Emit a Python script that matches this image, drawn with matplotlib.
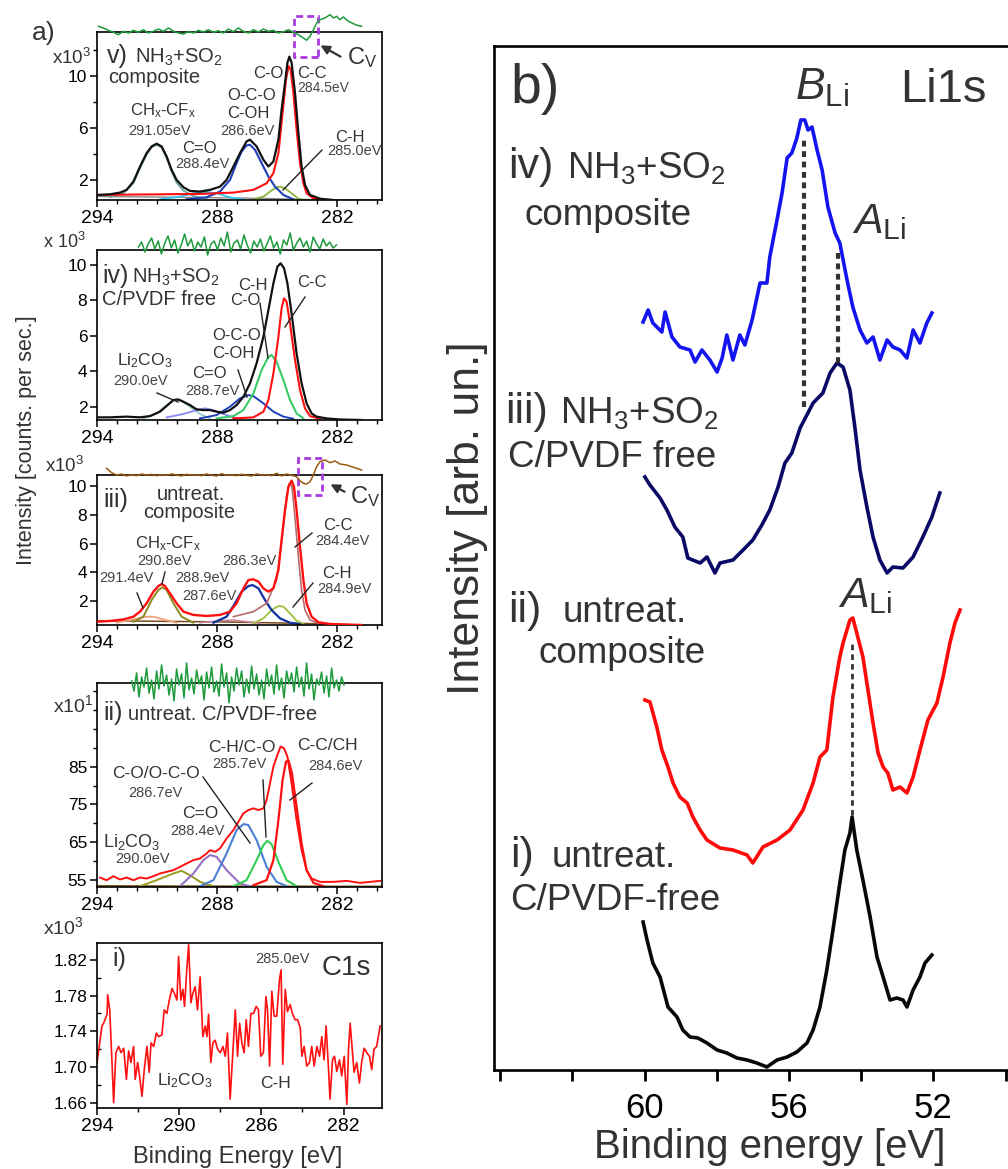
import matplotlib.pyplot as plt
from matplotlib.lines import Line2D
from matplotlib.patches import Rectangle, FancyArrowPatch
from matplotlib.ticker import FixedLocator, FormatStrFormatter

plt.rcParams['font.family'] = ['Liberation Sans', 'DejaVu Sans']
plt.rcParams['mathtext.fontset'] = 'custom'
plt.rcParams['mathtext.rm'] = 'Liberation Sans'
plt.rcParams['mathtext.it'] = 'Liberation Sans:italic'

###############################################################################
# Data: (binding energy [eV], intensity) pairs
# ---------------------------------------------------------------------------

# a-v) NH3+SO2 composite, intensity x10^3
V_ENV = [(293.93, 0.84), (293.35, 0.89), (292.85, 1.02), (292.52, 1.23), (292.18, 1.87),
         (291.85, 3.03), (291.52, 4.06), (291.27, 4.58), (291.02, 4.79), (290.77, 4.58),
         (290.52, 3.81), (290.27, 2.77), (290.02, 2.0), (289.68, 1.43), (289.35, 1.15),
         (288.85, 1.10), (288.35, 1.23), (287.85, 1.48), (287.52, 2.0), (287.18, 3.03),
         (286.85, 4.06), (286.52, 4.97), (286.35, 5.10), (286.02, 4.58), (285.68, 3.55),
         (285.43, 3.03), (285.18, 3.42), (284.93, 5.10), (284.77, 7.42), (284.6, 9.48),
         (284.48, 11.03), (284.38, 11.50), (284.27, 11.03), (284.1, 8.71), (283.93, 5.61),
         (283.77, 3.03), (283.6, 1.61), (283.35, 0.84), (282.85, 0.55), (282.18, 0.45)]
V_CC = [(294.0, 0.84), (288.85, 0.92), (287.18, 1.02), (286.18, 1.23), (285.52, 1.74),
        (285.18, 2.52), (284.93, 4.06), (284.72, 7.16), (284.55, 9.74), (284.42, 10.77),
        (284.32, 10.52), (284.18, 8.71), (284.02, 5.87), (283.85, 3.29), (283.68, 1.74),
        (283.52, 0.97), (283.18, 0.58), (282.52, 0.45)]
V_OCO = [(289.52, 0.50), (288.52, 0.66), (287.85, 1.10), (287.35, 2.0), (287.02, 3.29),
         (286.77, 4.19), (286.52, 4.66), (286.35, 4.71), (286.1, 4.32), (285.77, 3.29),
         (285.43, 2.26), (285.1, 1.48), (284.68, 0.84), (284.18, 0.50)]
V_CO = [(290.85, 0.50), (289.85, 0.71), (289.18, 0.97), (288.52, 1.07), (288.02, 0.97),
        (287.35, 0.66), (286.68, 0.50)]
V_CHCF = [(293.35, 0.66), (292.68, 0.97), (292.18, 1.74), (291.85, 2.90), (291.52, 3.94),
          (291.27, 4.50), (291.02, 4.71), (290.77, 4.50), (290.52, 3.68), (290.27, 2.65),
          (290.02, 1.79), (289.68, 1.17), (289.18, 0.76), (288.52, 0.55)]
V_CH = [(286.18, 0.50), (285.68, 0.71), (285.35, 1.10), (285.02, 1.43), (284.85, 1.48),
        (284.6, 1.35), (284.27, 0.97), (283.93, 0.55), (283.68, 0.45)]
V_BG = [(294.0, 0.72), (290.0, 0.66), (286.0, 0.58), (283.0, 0.48), (279.75, 0.45)]
V_RES = [(293.93, 5.7), (293.68, 4), (293.43, 1.7), (293.18, -0.3), (292.93, -2.7),
         (292.68, 0.7), (292.43, -1), (292.18, 1.7), (291.93, -0.3), (291.68, 2.3),
         (291.43, -1), (291.18, 0.7), (290.93, 3), (290.68, 0.7), (290.43, 4),
         (290.18, 0.7), (289.93, -1), (289.68, -2), (289.43, 0.3), (289.18, -1),
         (288.93, 1.7), (288.68, 0), (288.43, 2.3), (288.18, -0.3), (287.93, 1.3),
         (287.68, -1), (287.43, 3), (287.18, 0.3), (286.93, 4), (286.68, 0.7),
         (286.43, -1), (286.18, 2.3), (285.93, 0), (285.68, 3), (285.43, 0.7),
         (285.18, 1.7), (284.93, -1), (284.68, 0.3), (284.43, 2.3), (284.18, -0.3),
         (283.93, -2.7), (283.68, -6), (283.52, -8.3), (283.35, -4.3), (283.18, 2.3),
         (283.02, 9), (282.85, 12.3), (282.6, 14), (282.35, 17.3), (282.18, 14),
         (282.02, 15.7), (281.85, 12.3), (281.68, 15), (281.43, 10.7), (281.18, 8.3),
         (280.93, 6.3), (280.77, 5.7)]

# a-iv) NH3+SO2 C/PVDF free, intensity x10^3
IV_ENV = [(294.0, 1.40), (293.35, 1.40), (292.52, 1.44), (291.85, 1.40), (291.35, 1.47),
          (290.85, 1.72), (290.52, 2.04), (290.18, 2.38), (289.93, 2.41), (289.68, 2.28),
          (289.35, 2.09), (289.02, 1.85), (288.68, 1.81), (288.35, 1.81), (288.02, 1.72),
          (287.68, 1.66), (287.35, 1.81), (287.02, 2.09), (286.68, 2.56), (286.35, 3.32),
          (286.02, 4.45), (285.68, 5.95), (285.43, 7.46), (285.18, 8.97), (284.98, 9.91),
          (284.82, 10.10), (284.65, 9.82), (284.48, 8.97), (284.27, 7.27), (284.02, 5.01),
          (283.77, 3.32), (283.52, 2.19), (283.27, 1.62), (283.02, 1.44), (282.52, 1.34),
          (281.85, 1.28), (280.77, 1.25)]
IV_CC = [(287.18, 1.34), (286.18, 1.40), (285.68, 1.72), (285.43, 2.38), (285.18, 3.88),
         (284.93, 5.95), (284.77, 7.56), (284.65, 8.12), (284.52, 7.93), (284.35, 6.71),
         (284.1, 4.64), (283.85, 2.94), (283.6, 1.91), (283.35, 1.47), (282.85, 1.32)]
IV_CHCO = [(288.02, 1.34), (287.18, 1.47), (286.68, 1.81), (286.18, 2.75), (285.77, 4.07),
           (285.43, 4.82), (285.27, 4.92), (285.02, 4.54), (284.68, 3.51), (284.35, 2.38),
           (284.02, 1.62), (283.68, 1.34)]
IV_OCO = [(288.85, 1.34), (288.02, 1.53), (287.35, 2.0), (286.85, 2.47), (286.43, 2.66),
          (286.18, 2.60), (285.68, 2.19), (285.18, 1.72), (284.68, 1.44), (284.18, 1.32)]
IV_CO = [(290.52, 1.40), (289.68, 1.59), (289.02, 1.81), (288.6, 1.91), (288.18, 1.81),
         (287.68, 1.59), (287.02, 1.34)]
IV_LI = [(291.68, 1.34), (291.02, 1.62), (290.52, 2.09), (290.1, 2.38), (289.77, 2.34),
         (289.35, 2.0), (288.85, 1.59), (288.35, 1.34)]
IV_RES_E = [291.93, 291.77, 291.60, 291.44, 291.27, 291.11, 290.94, 290.78, 290.61, 290.45,
            290.28, 290.12, 289.95, 289.79, 289.62, 289.46, 289.29, 289.13, 288.96, 288.80,
            288.63, 288.47, 288.30, 288.14, 287.97, 287.81, 287.64, 287.48, 287.31, 287.15,
            286.98, 286.82, 286.65, 286.49, 286.32, 286.16, 285.99, 285.83, 285.66, 285.50,
            285.33, 285.17, 285.00, 284.84, 284.67, 284.51, 284.34, 284.18, 284.01, 283.85,
            283.68, 283.52, 283.35, 283.19, 283.02, 282.86, 282.69, 282.53, 282.36, 282.20,
            282.03]
IV_RES = [3, 8, -2, 6, 12, 1, 9, -4, 7, 14,
          2, 10, -3, 5, 16, 4, 11, -1, 8, 3,
          13, -5, 6, 9, 0, 12, 4, 18, -2, 7,
          10, 1, 15, 5, -3, 9, 3, 11, -1, 6,
          14, 2, 8, -4, 10, 5, 17, 0, 7, 12,
          3, 9, -2, 13, 6, 1, 11, 4, 8, 2,
          5]

# a-iii) untreated composite, intensity x10^3
III_ENV = [(294.0, 0.56), (293.35, 0.61), (292.68, 0.72), (292.18, 0.91), (291.85, 1.26),
           (291.52, 1.84), (291.18, 2.65), (290.93, 3.04), (290.77, 3.18), (290.6, 3.04),
           (290.35, 2.53), (290.02, 1.84), (289.68, 1.26), (289.18, 1.03), (288.52, 0.96),
           (287.85, 1.03), (287.35, 1.26), (287.02, 1.84), (286.68, 2.88), (286.43, 3.46),
           (286.18, 3.51), (285.93, 3.35), (285.68, 2.88), (285.43, 2.65), (285.18, 2.88),
           (284.93, 4.16), (284.77, 6.25), (284.6, 8.33), (284.43, 9.96), (284.27, 10.38),
           (284.15, 9.96), (284.02, 8.33), (283.85, 5.78), (283.68, 3.46), (283.52, 1.84),
           (283.27, 0.91), (282.93, 0.52), (282.35, 0.40), (280.77, 0.33)]
III_CC = [(287.18, 0.91), (286.18, 1.26), (285.52, 1.84), (285.02, 3.46), (284.72, 6.71),
          (284.52, 9.26), (284.38, 10.19), (284.25, 9.96), (284.12, 8.10), (283.93, 5.09),
          (283.77, 2.77), (283.6, 1.37), (283.35, 0.68), (282.85, 0.40)]
III_286 = [(288.18, 0.49), (287.52, 0.91), (287.1, 1.84), (286.77, 2.65), (286.43, 3.04),
           (286.22, 3.11), (285.93, 2.88), (285.6, 2.07), (285.27, 1.37), (284.85, 0.79),
           (284.35, 0.49), (283.85, 0.38)]
III_CHCF = [(292.18, 0.56), (291.68, 0.91), (291.27, 2.07), (290.93, 2.77), (290.73, 2.95),
            (290.52, 2.77), (290.18, 1.84), (289.77, 0.91), (289.18, 0.49)]
III_291 = [(293.02, 0.49), (292.18, 0.72), (291.52, 0.91), (291.18, 0.91), (290.68, 0.72),
           (290.02, 0.49)]
III_288 = [(288.85, 0.49), (287.85, 0.63), (287.18, 0.68), (286.52, 0.56), (285.85, 0.45)]
III_CH = [(286.18, 0.45), (285.68, 0.79), (285.27, 1.37), (284.93, 1.65), (284.68, 1.61),
          (284.35, 1.14), (284.02, 0.63), (283.68, 0.40)]
III_BG = [(294.0, 0.63), (288.0, 0.55), (284.0, 0.45), (280.77, 0.33)]
III_RES = [(293.52, 6.7), (293.27, 2.3), (293.02, 0), (292.77, 1), (292.52, -1),
           (292.27, 0.3), (292.02, -0.7), (291.77, 1), (291.52, -0.3), (291.27, 0.7),
           (291.02, -0.7), (290.77, 0.3), (290.52, -0.3), (290.27, 1), (290.02, 0),
           (289.77, -1), (289.52, 0.7), (289.27, -0.3), (289.02, 0.3), (288.77, -0.7),
           (288.52, 1), (288.27, -0.3), (288.02, -1), (287.77, 1.3), (287.52, -0.3),
           (287.27, 0.3), (287.02, -0.7), (286.77, 0.7), (286.52, -0.3), (286.27, -1),
           (286.02, 1), (285.77, 0), (285.52, 0.3), (285.27, -0.7), (285.02, 1.7),
           (284.77, -1), (284.52, 1), (284.27, -0.3), (284.02, -1.7), (283.85, -5.7),
           (283.68, -8.3), (283.52, -9), (283.35, -6.7), (283.18, 0), (283.02, 8.3),
           (282.85, 13.3), (282.6, 15), (282.35, 12.3), (282.1, 14), (281.85, 11),
           (281.52, 10), (281.18, 7.7), (280.77, 5)]

# a-ii) untreated C/PVDF-free, intensity x10^1
II_ENV = [(293.85, 55.71), (293.52, 55.0), (293.18, 56.06), (292.85, 55.18), (292.52, 55.71),
          (292.18, 55.0), (291.85, 55.71), (291.52, 55.44), (291.18, 56.06), (290.85, 56.77),
          (290.52, 57.21), (290.18, 57.65), (289.85, 58.53), (289.52, 59.41), (289.18, 60.30),
          (288.85, 60.74), (288.52, 62.06), (288.35, 62.94), (288.1, 62.50), (287.85, 63.38),
          (287.52, 66.03), (287.18, 68.24), (286.93, 70.45), (286.68, 72.65), (286.43, 73.53),
          (286.18, 73.98), (285.93, 73.53), (285.68, 73.98), (285.52, 76.18), (285.35, 80.60),
          (285.18, 85.01), (284.98, 88.10), (284.82, 90.30), (284.65, 89.86), (284.48, 87.66),
          (284.27, 80.60), (284.02, 70.89), (283.77, 62.94), (283.52, 57.65), (283.27, 55.44),
          (282.85, 54.56), (282.18, 54.56), (281.52, 54.82), (280.85, 54.29), (279.85, 54.82)]
II_CC = [(286.18, 53.68), (285.52, 55.0), (285.18, 60.30), (284.93, 70.89), (284.72, 81.48),
         (284.55, 86.33), (284.42, 86.60), (284.25, 83.24), (284.02, 74.42), (283.77, 64.71),
         (283.52, 57.65), (283.18, 54.29), (282.68, 53.41)]
II_CHCO = [(287.18, 53.41), (286.52, 55.0), (286.02, 60.30), (285.68, 64.27), (285.48, 65.41),
           (285.27, 64.53), (284.93, 59.85), (284.52, 55.0), (284.02, 53.41)]
II_COOCO = [(288.85, 53.41), (288.18, 55.0), (287.52, 62.06), (287.02, 68.24), (286.68, 69.83),
            (286.43, 69.56), (286.02, 65.59), (285.52, 58.53), (285.02, 54.56), (284.52, 53.41)]
II_CO = [(289.85, 53.41), (289.18, 56.77), (288.68, 60.30), (288.35, 61.62), (288.02, 61.18),
         (287.52, 57.65), (286.85, 54.12), (286.35, 53.41)]
II_LI = [(291.85, 53.41), (291.02, 55.0), (290.18, 56.77), (289.77, 57.47), (289.35, 56.32),
         (288.85, 54.56), (288.18, 53.41)]
II_BG = [(294.0, 53.5), (288.0, 53.4), (282.0, 53.35), (279.75, 53.35)]
II_RES_E = [292.27, 292.15, 292.02, 291.90, 291.77, 291.65, 291.52, 291.40, 291.27, 291.15,
            291.02, 290.90, 290.77, 290.65, 290.52, 290.40, 290.27, 290.15, 290.02, 289.90,
            289.77, 289.65, 289.52, 289.40, 289.27, 289.15, 289.02, 288.90, 288.77, 288.65,
            288.52, 288.40, 288.27, 288.15, 288.02, 287.90, 287.77, 287.65, 287.52, 287.40,
            287.27, 287.15, 287.02, 286.90, 286.77, 286.65, 286.52, 286.40, 286.27, 286.15,
            286.02, 285.90, 285.77, 285.65, 285.52, 285.40, 285.27, 285.15, 285.02, 284.90,
            284.77, 284.65, 284.52, 284.40, 284.27, 284.15, 284.02, 283.90, 283.77, 283.65,
            283.52, 283.40, 283.27, 283.15, 283.02, 282.90, 282.77, 282.65, 282.52, 282.40,
            282.27, 282.15, 282.02, 281.90, 281.77, 281.65]
II_RES = [2, -8, 10, -14, 6, -4, 15, -10, 3, -16,
          12, -6, 18, -3, 8, -12, 4, -18, 14, -2,
          9, -15, 20, -7, 5, -11, 13, -1, 7, -17,
          11, -5, 16, -9, 2, -13, 19, -4, 10, -20,
          6, -8, 15, -2, 12, -14, 4, -10, 17, -6,
          9, -12, 3, -16, 14, -3, 8, -11, 18, -7,
          5, -15, 12, -1, 10, -9, 16, -4, 6, -13,
          20, -6, 9, -17, 4, -2, 11, -10, 7, -14,
          15, -5, 3, -8, 6, -2]

# a-i) C1s, intensity x10^3
I_C1S = [(294.00, 1.705), (293.89, 1.723), (293.76, 1.746), (293.68, 1.749), (293.51, 1.759),
         (293.48, 1.781), (293.38, 1.764), (293.27, 1.705), (293.19, 1.660), (293.08, 1.716),
         (292.95, 1.723), (292.83, 1.716), (292.70, 1.721), (292.57, 1.686), (292.46, 1.718),
         (292.35, 1.705), (292.22, 1.723), (292.14, 1.686), (292.02, 1.705), (291.93, 1.690),
         (291.81, 1.667), (291.70, 1.697), (291.57, 1.723), (291.46, 1.694), (291.37, 1.727),
         (291.24, 1.723), (291.11, 1.738), (291.00, 1.734), (290.84, 1.736), (290.73, 1.764),
         (290.60, 1.760), (290.48, 1.775), (290.35, 1.788), (290.24, 1.783), (290.11, 1.775),
         (290.03, 1.824), (289.92, 1.775), (289.82, 1.787), (289.74, 1.768), (289.62, 1.813),
         (289.54, 1.837), (289.43, 1.772), (289.33, 1.783), (289.22, 1.790), (289.11, 1.764),
         (288.98, 1.801), (288.85, 1.734), (288.73, 1.746), (288.65, 1.734), (288.57, 1.759),
         (288.46, 1.705), (288.36, 1.727), (288.25, 1.730), (288.13, 1.720), (288.00, 1.716),
         (287.87, 1.723), (287.76, 1.712), (287.65, 1.738), (287.52, 1.664), (287.40, 1.712),
         (287.27, 1.764), (287.16, 1.712), (287.06, 1.749), (286.95, 1.727), (286.84, 1.716),
         (286.74, 1.753), (286.63, 1.723), (286.51, 1.760), (286.38, 1.760), (286.25, 1.768),
         (286.14, 1.764), (286.03, 1.712), (285.90, 1.716), (285.78, 1.779), (285.70, 1.764),
         (285.60, 1.701), (285.49, 1.785), (285.38, 1.757), (285.25, 1.757), (285.12, 1.798),
         (285.04, 1.809), (284.96, 1.703), (284.84, 1.787), (284.73, 1.762), (284.60, 1.770),
         (284.49, 1.760), (284.36, 1.753), (284.24, 1.753), (284.11, 1.744), (284.03, 1.712),
         (283.92, 1.723), (283.79, 1.701), (283.66, 1.705), (283.55, 1.723), (283.43, 1.701),
         (283.30, 1.723), (283.17, 1.712), (283.06, 1.734), (282.95, 1.708), (282.85, 1.746),
         (282.74, 1.701), (282.66, 1.664), (282.54, 1.708), (282.44, 1.712), (282.33, 1.695),
         (282.20, 1.708), (282.09, 1.690), (281.97, 1.712), (281.84, 1.658), (281.76, 1.720),
         (281.68, 1.749), (281.59, 1.723), (281.49, 1.694), (281.36, 1.705), (281.23, 1.682),
         (281.12, 1.705), (281.00, 1.721), (280.87, 1.716), (280.74, 1.712), (280.63, 1.697),
         (280.52, 1.720), (280.39, 1.723), (280.22, 1.746)]

# b) Li1s, arbitrary units (stacked)
LI_IV = [(60.04, 748), (59.90, 760), (59.77, 747), (59.52, 738), (59.43, 758), (59.24, 733),
         (59.02, 723), (58.74, 720), (58.60, 708), (58.41, 720), (58.19, 710), (57.99, 698),
         (57.85, 712), (57.72, 735), (57.55, 710), (57.36, 735), (57.22, 725), (57.02, 750),
         (56.80, 787), (56.61, 787), (56.53, 813), (56.33, 850), (56.19, 877), (56.05, 912),
         (55.92, 917), (55.78, 932), (55.67, 950), (55.56, 950), (55.47, 940), (55.36, 943),
         (55.22, 920), (55.08, 900), (54.92, 863), (54.72, 837), (54.59, 827), (54.39, 790),
         (54.23, 763), (54.03, 740), (53.84, 727), (53.67, 733), (53.48, 710), (53.28, 730),
         (53.12, 723), (52.92, 720), (52.73, 712), (52.56, 740), (52.37, 727), (52.18, 747),
         (52.04, 757)]
LI_III = [(59.99, 593), (59.85, 585), (59.57, 572), (59.38, 560), (59.16, 543), (58.94, 533),
          (58.80, 512), (58.46, 507), (58.27, 513), (58.05, 497), (57.91, 507), (57.55, 510),
          (57.27, 520), (57.00, 530), (56.75, 545), (56.53, 560), (56.30, 583), (56.11, 607),
          (55.92, 617), (55.78, 632), (55.69, 642), (55.33, 667), (55.06, 677), (54.86, 697),
          (54.67, 707), (54.50, 703), (54.31, 680), (54.17, 642), (54.03, 600), (53.84, 563),
          (53.67, 533), (53.48, 510), (53.28, 497), (53.12, 503), (52.84, 502), (52.56, 513),
          (52.29, 533), (52.04, 553), (51.82, 577)]
LI_II = [(59.99, 370), (59.85, 368), (59.66, 343), (59.52, 320), (59.35, 303), (59.21, 287),
         (59.02, 273), (58.82, 267), (58.66, 253), (58.46, 240), (58.27, 230), (57.91, 222),
         (57.55, 220), (57.16, 215), (57.00, 207), (56.72, 223), (56.33, 230), (55.97, 240),
         (55.61, 260), (55.33, 287), (55.14, 313), (54.95, 320), (54.78, 373), (54.59, 413),
         (54.50, 427), (54.31, 450), (54.23, 452), (54.12, 437), (53.95, 413), (53.84, 387),
         (53.67, 347), (53.53, 317), (53.39, 303), (53.26, 297), (53.12, 280), (52.92, 283),
         (52.73, 277), (52.56, 293), (52.37, 320), (52.15, 350), (51.90, 367), (51.73, 393),
         (51.54, 427), (51.40, 447), (51.26, 460)]
LI_I = [(60.04, 148), (59.93, 130), (59.77, 107), (59.57, 93), (59.35, 63), (59.10, 53),
        (58.94, 40), (58.74, 33), (58.52, 32), (58.27, 27), (57.99, 20), (57.72, 17),
        (57.44, 12), (57.16, 10), (56.89, 7), (56.61, 3), (56.33, 10), (56.05, 13),
        (55.78, 18), (55.50, 27), (55.33, 40), (55.14, 63), (54.95, 100), (54.78, 140),
        (54.59, 187), (54.45, 220), (54.31, 237), (54.25, 253), (54.12, 220), (53.95, 190),
        (53.75, 153), (53.56, 113), (53.39, 93), (53.20, 70), (53.01, 72), (52.84, 70),
        (52.73, 63), (52.56, 80), (52.37, 93), (52.23, 107), (52.04, 115)]

# peak markers in b): energy and vertical span
B_LI = (55.58, 663, 930)
A_LI_UP = (54.64, 707, 818)
A_LI_LOW = (54.25, 255, 430)

###############################################################################
# Figure helpers (pixel positions, origin top-left)
# ---------------------------------------------------------------------------
W, H = 1008, 1169
TXT = '#333333'
EVC = '#454545'
fig = plt.figure(figsize=(W / 100, H / 100), dpi=100)


def fx(x):
    return x / W


def fy(y):
    return 1 - y / H


def px_axes(x0, y0, x1, y1):
    return fig.add_axes([fx(x0), fy(y1), (x1 - x0) / W, (y1 - y0) / H])


def label(x, y, s, size=12, color=TXT, **kw):
    fig.text(fx(x), fy(y), s, fontsize=size, color=color, va='baseline', ha='left', **kw)


def leader(x0, y0, x1, y1, lw=1.0):
    fig.add_artist(Line2D([fx(x0), fx(x1)], [fy(y0), fy(y1)], lw=lw, color='#222222',
                          transform=fig.transFigure))


def arrow(x0, y0, x1, y1):
    fig.add_artist(FancyArrowPatch((fx(x0), fy(y0)), (fx(x1), fy(y1)), transform=fig.transFigure,
                                   arrowstyle='-|>', mutation_scale=13, lw=1.6, color='#333333'))


def draw(ax, pts, color, lw=1.2, z=2):
    xs, ys = zip(*pts)
    ax.plot(xs, ys, color=color, lw=lw, zorder=z)


def spec_axes(box, xlim, ylim, yticks, yminor, xticks, xminor):
    ax = px_axes(*box)
    ax.set_xlim(*xlim)
    ax.set_ylim(*ylim)
    for s in ax.spines.values():
        s.set_linewidth(1.2)
    ax.xaxis.set_major_locator(FixedLocator(xticks))
    ax.xaxis.set_minor_locator(FixedLocator(xminor))
    ax.yaxis.set_major_locator(FixedLocator(yticks))
    ax.yaxis.set_minor_locator(FixedLocator(yminor))
    ax.tick_params(which='major', direction='out', length=5, width=1.1, pad=2)
    ax.tick_params(which='minor', direction='out', length=3, width=1.0)
    ax.tick_params(axis='x', labelsize=14)
    ax.tick_params(axis='y', labelsize=12.5)
    return ax


def residual(box, xlim, xs, rs, color, half=30):
    x0, y0, x1, _ = box
    rax = px_axes(x0, y0 - half, x1, y0 + half)
    rax.set_xlim(*xlim)
    rax.set_ylim(-half, half)
    rax.axis('off')
    rax.plot(xs, rs, color=color, lw=1.1, clip_on=False)
    return rax


def cv_box(rax, e0, e1, r0, r1):
    rax.add_patch(Rectangle((e0, r0), e1 - e0, r1 - r0, fill=False, ec='#a83be0',
                            lw=2.0, ls=(0, (2.5, 1.5)), clip_on=False))


XL = (294, 279.75)
XT, XM = [294, 288, 282], [293, 292, 291, 290, 289, 287, 286, 285, 284, 283, 281, 280]
GREEN = '#1e9b3c'

###############################################################################
# a-v)
box_v = (97, 32, 382, 200)
ax = spec_axes(box_v, XL, (0.45, 13.4), [2, 6, 10], [4, 8, 12], XT, XM)
draw(ax, V_BG, '#8a8a8a', 1.0)
draw(ax, V_CHCF, '#6fa6a8', 1.3)
draw(ax, V_CO, '#2cc6f0', 1.3)
draw(ax, V_CH, '#8cb43c', 1.3)
draw(ax, V_OCO, '#1f3fb8', 1.5)
draw(ax, V_CC, '#ff1010', 1.5)
draw(ax, V_ENV, '#111111', 1.6, 3)
rax = residual(box_v, XL, *zip(*V_RES), GREEN)
cv_box(rax, 282.93, 284.13, -25, 15.7)

label(107, 63, 'v)', 18)
label(135, 63, r'NH$_3$+SO$_2$', 14.5)
label(108, 83, 'composite', 14.5)
label(130, 115, r'CH$_{\rm x}$-CF$_{\rm x}$', 12)
label(128, 135, '291.05eV', 10.5, EVC)
label(182, 153, 'C=O', 12)
label(175, 168, '288.4eV', 10.5, EVC)
label(227, 100, 'O-C-O', 12)
label(227, 118, 'C-OH', 12)
label(220, 135, '286.6eV', 10.5, EVC)
label(253, 78, 'C-O', 12)
label(297, 78, 'C-C', 12)
label(297, 92, '284.5eV', 10, EVC)
label(335, 142, 'C-H', 12)
label(327, 155, '285.0eV', 10.5, EVC)
leader(322, 150, 283, 190)
label(347, 64, r'C$_{\rm V}$', 17)
arrow(343, 58, 318, 44)

###############################################################################
# a-iv)
box_iv = (97, 250, 382, 420)
ax = spec_axes(box_iv, XL, (1.25, 10.85), [2, 4, 6, 8, 10], [], XT, XM)
draw(ax, IV_LI, '#93c9c9', 1.3)
draw(ax, IV_CO, '#8a8af0', 1.3)
draw(ax, IV_OCO, '#1f3fb8', 1.4)
draw(ax, IV_CHCO, '#3acb68', 1.5)
draw(ax, IV_CC, '#ff1010', 1.5)
draw(ax, IV_ENV, '#111111', 1.6, 3)
residual(box_iv, XL, IV_RES_E, IV_RES, GREEN)

label(102, 283, 'iv)', 18)
label(132, 283, r'NH$_3$+SO$_2$', 14.5)
label(102, 305, 'C/PVDF free', 14.5)
label(238, 290, 'C-H', 12)
label(230, 305, 'C-O', 12)
label(297, 287, 'C-C', 12)
label(212, 340, 'O-C-O', 12)
label(212, 358, 'C-OH', 12)
label(117, 365, r'Li$_2$CO$_3$', 12.5)
label(113, 385, '290.0eV', 10.5, EVC)
label(192, 378, 'C=O', 12)
label(185, 395, '288.7eV', 10.5, EVC)
leader(157, 393, 178, 402)
leader(238, 370, 247, 397)
leader(260, 303, 268, 358)
leader(305, 297, 285, 327)

###############################################################################
# a-iii)
box_iii = (97, 475, 382, 625)
ax = spec_axes(box_iii, XL, (0.33, 10.77), [2, 4, 6, 8, 10], [], XT, XM)
draw(ax, III_BG, '#7a4a1a', 1.1)
draw(ax, III_291, '#f2a27c', 1.3)
draw(ax, III_288, '#c9829a', 1.1)
draw(ax, III_CHCF, '#8a8a1e', 1.4)
draw(ax, III_CH, '#9cc040', 1.3)
draw(ax, III_286, '#1030a0', 1.6)
draw(ax, III_CC, '#b86a6a', 1.2)
draw(ax, III_ENV, '#ff1010', 1.7, 3)
rax = residual(box_iii, XL, *zip(*III_RES), '#9a5a12')
cv_box(rax, 282.77, 283.93, -20, 17)

label(103, 507, 'iii)', 18)
label(157, 500, 'untreat.', 14.5)
label(143, 518, 'composite', 14.5)
label(323, 530, 'C-C', 12)
label(315, 545, '284.4eV', 10.5, EVC)
label(135, 548, r'CH$_{\rm x}$-CF$_{\rm x}$', 12)
label(137, 565, '290.8eV', 10.5, EVC)
label(222, 565, '286.3eV', 10.5, EVC)
label(99, 582, '291.4eV', 10.5, EVC)
label(175, 582, '288.9eV', 10.5, EVC)
label(182, 600, '287.6eV', 10.5, EVC)
label(322, 578, 'C-H', 12)
label(317, 593, '284.9eV', 10.5, EVC)
leader(137, 593, 143, 608)
leader(165, 572, 162, 584)
leader(312, 533, 295, 547)
leader(313, 583, 293, 607)
label(350, 503, r'C$_{\rm V}$', 17)
arrow(347, 493, 328, 483)

###############################################################################
# a-ii)
box_ii = (97, 683, 382, 887)
ax = spec_axes(box_ii, XL, (53.2, 107.1), [55, 65, 75, 85], [60, 70, 80, 90, 95, 100, 105], XT, XM)
draw(ax, II_BG, '#7a5a1a', 1.3)
draw(ax, II_LI, '#9a9a22', 1.4)
draw(ax, II_CO, '#9370c0', 1.5)
draw(ax, II_COOCO, '#4a80d0', 1.5)
draw(ax, II_CHCO, '#33cc55', 1.5)
draw(ax, II_CC, '#ff1010', 1.6)
draw(ax, II_ENV, '#ff1010', 1.4, 3)
residual(box_ii, XL, II_RES_E, II_RES, GREEN)

label(103, 720, 'ii)', 18)
label(128, 720, 'untreat. C/PVDF-free', 14.5)
label(208, 752, 'C-H/C-O', 12.5)
label(212, 768, '285.7eV', 10.5, EVC)
label(297, 750, 'C-C/CH', 12.5)
label(308, 770, '284.6eV', 10.5, EVC)
label(112, 778, 'C-O/O-C-O', 12.5)
label(128, 797, '286.7eV', 10.5, EVC)
label(182, 818, 'C=O', 12.5)
label(170, 835, '288.4eV', 10.5, EVC)
label(103, 847, r'Li$_2$CO$_3$', 13)
label(115, 863, '290.0eV', 10.5, EVC)
leader(203, 777, 250, 843)
leader(263, 780, 266, 837)
leader(312, 783, 290, 800)

###############################################################################
# a-i)
box_i = (97, 943, 382, 1108)
ax = spec_axes(box_i, (294, 280.13), (1.654, 1.839), [1.66, 1.70, 1.74, 1.78, 1.82],
               [1.68, 1.72, 1.76, 1.80], [294, 290, 286, 282], [292, 288, 284, 280])
ax.yaxis.set_major_formatter(FormatStrFormatter('%.2f'))
ax.tick_params(axis='y', which='minor', direction='in')
draw(ax, I_C1S, '#ff1010', 1.2)
label(112, 966, 'i)', 18)
label(255, 963, '285.0eV', 10.5, EVC)
label(322, 975, 'C1s', 20)
label(157, 1085, r'Li$_2$CO$_3$', 12.5)
label(260, 1088, 'C-H', 12.5)
fig.text(fx(238), fy(1163), 'Binding Energy [eV]', fontsize=17, color=TXT, ha='center', va='baseline')

# left panel decorations
label(32, 40, 'a)', 19)
label(52, 64, r'x10$^3$', 13.5)
label(43, 248, r'x 10$^3$', 13)
label(45, 472, r'x10$^3$', 13.5)
label(53, 712, r'x10$^1$', 14)
label(43, 934, r'x10$^3$', 14)
fig.text(fx(27), fy(440), 'Intensity [counts. per sec.]', rotation=90, fontsize=15.5,
         color=TXT, ha='center', va='center')

###############################################################################
# b) Li1s
axb = px_axes(494, 46, 1012, 1070)
axb.set_xlim(64.17, 49.82)
axb.set_ylim(0, 1024)
for s in axb.spines.values():
    s.set_linewidth(1.9)
axb.spines['right'].set_visible(False)
axb.set_yticks([])
axb.xaxis.set_major_locator(FixedLocator([60, 56, 52]))
axb.xaxis.set_minor_locator(FixedLocator([64, 62, 58, 54, 50]))
axb.tick_params(axis='x', which='both', direction='out', length=8, width=2, labelsize=25, pad=8)

draw(axb, LI_IV, '#1414f0', 2.6)
draw(axb, LI_III, '#0a0a66', 2.6)
draw(axb, LI_II, '#ff0a0a', 2.6)
draw(axb, LI_I, '#080808', 2.6)
axb.plot([B_LI[0]] * 2, B_LI[1:], color='#333333', lw=3, ls=(0, (1.4, 1.1)))
axb.plot([A_LI_UP[0]] * 2, A_LI_UP[1:], color='#333333', lw=3, ls=(0, (1.4, 1.1)))
axb.plot([A_LI_LOW[0]] * 2, A_LI_LOW[1:], color='#333333', lw=2, ls=(0, (2, 1.5)))

label(510, 103, 'b)', 40)
label(795, 100, r'$B_{\rm Li}$', 32)
label(900, 102, 'Li1s', 34)
label(508, 178, 'iv)', 31)
label(567, 178, r'NH$_3$+SO$_2$', 26.5)
label(525, 225, 'composite', 26.5)
label(852, 233, r'$A_{\rm Li}$', 31)
label(505, 423, 'iii)', 31)
label(560, 423, r'NH$_3$+SO$_2$', 26.5)
label(508, 467, 'C/PVDF free', 26.5)
label(508, 622, 'ii)', 31)
label(563, 622, 'untreat.', 26.5)
label(538, 663, 'composite', 26.5)
label(838, 607, r'$A_{\rm Li}$', 31)
label(510, 867, 'i)', 31)
label(552, 867, 'untreat.', 26.5)
label(510, 910, 'C/PVDF-free', 26.5)
fig.text(fx(770), fy(1158), 'Binding energy [eV]', fontsize=29, color=TXT, ha='center', va='baseline')
fig.text(fx(468), fy(518), 'Intensity [arb. un.]', rotation=90, fontsize=32, color=TXT,
         ha='center', va='center')

fig.savefig('out.png', dpi=100)
